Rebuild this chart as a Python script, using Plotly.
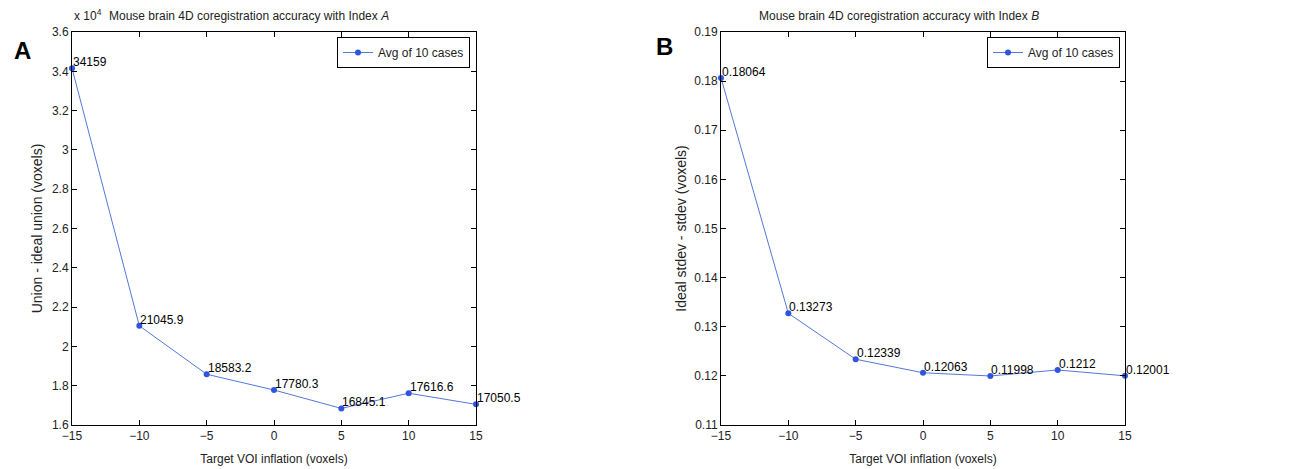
import plotly.graph_objects as go

inflation = [-15, -10, -5, 0, 5, 10, 15]
index_a = [34159, 21045.9, 18583.2, 17780.3, 16845.1, 17616.6, 17050.5]
index_b = [0.18064, 0.13273, 0.12339, 0.12063, 0.11998, 0.1212, 0.12001]
labels_a = ["34159", "21045.9", "18583.2", "17780.3", "16845.1", "17616.6", "17050.5"]
labels_b = ["0.18064", "0.13273", "0.12339", "0.12063", "0.11998", "0.1212", "0.12001"]
series_name = "Avg of 10 cases"

W, H = 1298, 469
FONT = "Liberation Sans, Arial, sans-serif"
BLUE = "#2f55e0"
LINE = "#5577d6"
TXT = "#222"

def px(x):
    return x / W

def py(y):
    return (H - y) / H

fig = go.Figure()
fig.add_trace(go.Scatter(
    x=inflation, y=[v / 1e4 for v in index_a],
    mode="lines+markers",
    line=dict(color=LINE, width=1), marker=dict(color=BLUE, size=6),
    name=series_name, xaxis="x", yaxis="y", legend="legend2", showlegend=True,
    legendgroup="a", cliponaxis=False))
fig.add_trace(go.Scatter(
    x=inflation, y=index_b,
    mode="lines+markers",
    line=dict(color=LINE, width=1), marker=dict(color=BLUE, size=6),
    name=series_name, xaxis="x2", yaxis="y2", legend="legend3", showlegend=True,
    legendgroup="b", cliponaxis=False))

annotations = []
for xv, yv, lab in zip(inflation, index_a, labels_a):
    annotations.append(dict(x=xv, y=yv / 1e4, xref="x", yref="y", text=lab, showarrow=False,
                            xanchor="left", yanchor="bottom", xshift=-1, yshift=-3,
                            font=dict(family=FONT, size=12, color="black")))
for xv, yv, lab in zip(inflation, index_b, labels_b):
    annotations.append(dict(x=xv, y=yv, xref="x2", yref="y2", text=lab, showarrow=False,
                            xanchor="left", yanchor="bottom", xshift=-1, yshift=-3,
                            font=dict(family=FONT, size=12, color="black")))

annotations += [
    dict(text="Mouse brain 4D coregistration accuracy with Index <i>A</i>",
         x=px(249), y=py(16), xref="paper", yref="paper", showarrow=False,
         xanchor="center", yanchor="middle",
         font=dict(family=FONT, size=12, color=TXT)),
    dict(text="Mouse brain 4D coregistration accuracy with Index <i>B</i>",
         x=px(899), y=py(16), xref="paper", yref="paper", showarrow=False,
         xanchor="center", yanchor="middle",
         font=dict(family=FONT, size=12, color=TXT)),
    dict(text="x 10<sup>4</sup>", x=px(72), y=py(15), xref="paper", yref="paper",
         xanchor="left", yanchor="middle", showarrow=False,
         font=dict(family=FONT, size=12, color=TXT)),
    dict(text="<b>A</b>", x=px(22), y=py(50), xref="paper", yref="paper",
         xanchor="center", yanchor="middle",
         showarrow=False, font=dict(family=FONT, size=24, color="black")),
    dict(text="<b>B</b>", x=px(664), y=py(46), xref="paper", yref="paper",
         xanchor="center", yanchor="middle",
         showarrow=False, font=dict(family=FONT, size=24, color="black")),
]

ydom = [py(425), py(32)]
axcommon = dict(showgrid=False, zeroline=False, showline=True, linecolor="black",
                linewidth=1, mirror="ticks", ticks="inside", ticklen=5,
                tickcolor="black", automargin=False,
                tickfont=dict(family=FONT, size=12, color=TXT))
xtitle_font = dict(family=FONT, size=12, color=TXT)
ytitle_font = dict(family=FONT, size=14, color=TXT)
legcommon = dict(xanchor="right", yanchor="top", bordercolor="black", borderwidth=1,
                 bgcolor="white", xref="paper", yref="paper", visible=True,
                 font=dict(family=FONT, size=12, color=TXT))

fig.update_layout(
    width=W, height=H, margin=dict(l=0, r=0, t=0, b=0, autoexpand=False),
    paper_bgcolor="white", plot_bgcolor="white", showlegend=True,
    font=dict(family=FONT, size=12, color=TXT),
    xaxis=dict(domain=[px(72), px(476)], range=[-15, 15], dtick=5, anchor="y",
               title=dict(text="Target VOI inflation (voxels)", standoff=12, font=xtitle_font),
               **axcommon),
    yaxis=dict(domain=ydom, range=[1.6, 3.6], dtick=0.2, anchor="x",
               title=dict(text="Union - ideal union (voxels)", standoff=6, font=ytitle_font),
               **axcommon),
    xaxis2=dict(domain=[px(721), px(1125)], range=[-15, 15], dtick=5, anchor="y2",
                title=dict(text="Target VOI inflation (voxels)", standoff=12, font=xtitle_font),
                **axcommon),
    yaxis2=dict(domain=ydom, range=[0.11, 0.19], dtick=0.01, anchor="x2",
                title=dict(text="Ideal stdev - stdev (voxels)", standoff=4, font=ytitle_font),
                **axcommon),
    legend2=dict(x=px(470), y=py(37), **legcommon),
    legend3=dict(x=px(1120), y=py(37), **legcommon),
    annotations=annotations,
)

fig.write_html("out.html", config={"displayModeBar": False},
               post_script="document.body.style.margin='0';document.body.style.padding='0';")
